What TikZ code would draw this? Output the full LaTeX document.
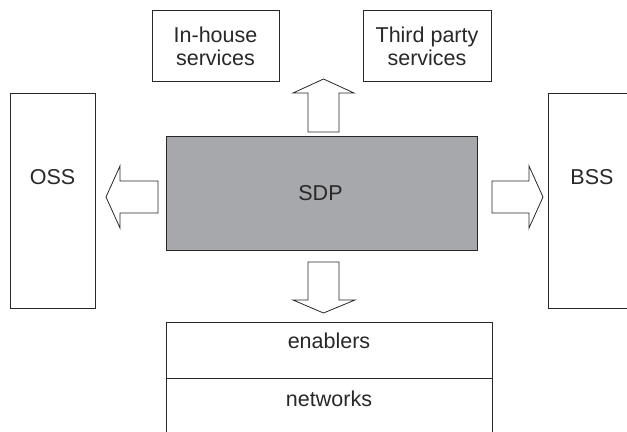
\documentclass[tikz,border=0pt]{standalone}
\usepackage{fontspec}
\setmainfont{Liberation Sans}
\definecolor{sdpgray}{RGB}{167,168,171}
\definecolor{inkline}{RGB}{40,40,40}
\begin{document}
\begin{tikzpicture}[x=1bp,y=-1bp,
  box/.style={draw=inkline,line width=0.8bp,rectangle,inner sep=0pt},
  txt/.style={inner sep=0pt,align=center,text=inkline,
    font=\fontsize{21.5bp}{23bp}\selectfont},
  blockarrow/.style={draw=inkline,line width=0.8bp,fill=white,line join=miter}]
\clip (0,0) rectangle (627,431);
\fill[white] (0,0) rectangle (627,431);

% service layer above the platform
\node[box,minimum width=127bp,minimum height=71bp] (inhouse) at (215.5,45.5) {};
\node[txt] (inhousetxt) at (215.5,46.5) {In-house\\services};
\node[box,minimum width=128bp,minimum height=71bp] (third) at (427,45.5) {};
\node[txt] (thirdtxt) at (427,46.5) {Third party\\services};

% support systems on either side
\node[box,minimum width=85bp,minimum height=215bp] (oss) at (52.5,200.5) {};
\node[txt] (osstxt) at (52.5,177) {OSS};
\node[box,minimum width=100bp,minimum height=215bp] (bss) at (598,200.5) {};
\node[txt] (bsstxt) at (592,177) {BSS};

% service delivery platform
\node[box,fill=sdpgray,minimum width=311bp,minimum height=114bp] (sdp) at (321.5,193) {};
\node[txt] (sdptxt) at (320.5,193) {SDP};

% lower layers
\node[box,minimum width=326bp,minimum height=56bp] (enablers) at (329,350) {};
\node[txt,anchor=base] (enablerstxt) at (329,348) {enablers};
\node[box,minimum width=326bp,minimum height=56bp] (networks) at (329,406) {};
\node[txt,anchor=base] (networkstxt) at (329,406) {networks};

% hollow block arrows out of the platform
\draw[blockarrow] (308,132) -- (308,93) -- (293,93) -- (323.5,79) -- (354,93)
  -- (339,93) -- (339,132) -- cycle;
\draw[blockarrow] (158,181) -- (120,181) -- (120,166) -- (106,197) -- (120,228)
  -- (120,213) -- (158,213) -- cycle;
\draw[blockarrow] (492,181) -- (529,181) -- (529,166) -- (543,197) -- (529,228)
  -- (529,213) -- (492,213) -- cycle;
\draw[blockarrow] (308,262) -- (339,262) -- (339,300) -- (355,300) -- (323.5,313)
  -- (293,300) -- (308,300) -- cycle;
\end{tikzpicture}
\end{document}
